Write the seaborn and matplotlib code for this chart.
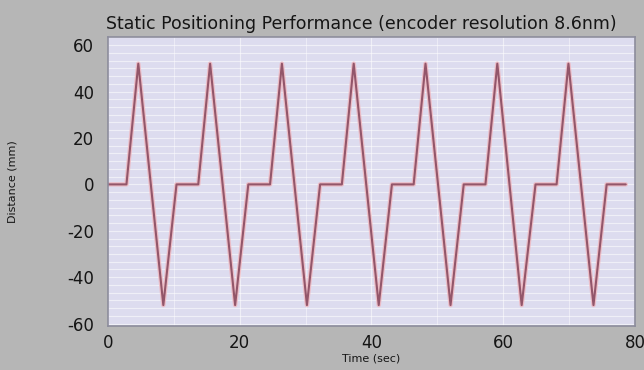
import seaborn as sns
import matplotlib.pyplot as plt
from matplotlib.ticker import MultipleLocator
import pandas as pd

# время (с) и положение (мм)
time_sec = [0, 2.8, 4.6, 8.4, 10.4,
            13.7, 15.5, 19.3, 21.3,
            24.6, 26.4, 30.2, 32.2,
            35.5, 37.3, 41.1, 43.1,
            46.4, 48.2, 52.0, 54.0,
            57.3, 59.1, 62.8, 64.9,
            68.1, 69.9, 73.7, 75.7,
            78.6]
distance_mm = [0, 0, 52, -52, 0,
               0, 52, -52, 0,
               0, 52, -52, 0,
               0, 52, -52, 0,
               0, 52, -52, 0,
               0, 52, -52, 0,
               0, 52, -52, 0,
               0]

x_ticks = [0, 20, 40, 60, 80]
y_ticks = [-60, -40, -20, 0, 20, 40, 60]

df = pd.DataFrame({'t': time_sec, 'd': distance_mm})

sns.set_theme(style='white')
plt.rcParams['font.family'] = ['DejaVu Sans']
plt.rcParams['axes.unicode_minus'] = False  # на картинке обычный дефис

fig = plt.figure(figsize=(6.44, 3.70), dpi=100)
fig.patch.set_facecolor('#b6b6b6')
ax = fig.add_axes([0.1677, 0.119, 0.8183, 0.781])
ax.set_facecolor('#dddcef')

# светлая подложка линии и сама линия
sns.lineplot(data=df, x='t', y='d', ax=ax, color='#efb4bc', linewidth=3.2, alpha=0.8)
sns.lineplot(data=df, x='t', y='d', ax=ax, color='#93566a', linewidth=1.5)

ax.set_xlim(0, 80)
ax.set_ylim(-61, 63.5)
ax.set_xticks(x_ticks)
ax.set_yticks(y_ticks)
ax.yaxis.set_minor_locator(MultipleLocator(10 / 3))
ax.xaxis.set_minor_locator(MultipleLocator(10))
ax.grid(which='minor', axis='y', color='white', alpha=0.55, linewidth=0.8)
ax.grid(which='minor', axis='x', color='white', alpha=0.45, linewidth=0.8)
ax.grid(which='major', axis='both', color='white', alpha=0.55, linewidth=0.8)
ax.set_axisbelow(True)

ax.tick_params(axis='both', which='both', length=0, labelsize=12, colors='#151515')
ax.tick_params(axis='x', pad=6)
ax.tick_params(axis='y', pad=10)
for s in ax.spines.values():
    s.set_color('#8c8c9c')
    s.set_linewidth(1.2)

ax.set_xlabel('Time (sec)', fontsize=8, color='#151515', labelpad=1)
ax.set_ylabel('Distance (mm)', fontsize=8, color='#151515', labelpad=36)
ax.set_title('Static Positioning Performance (encoder resolution 8.6nm)',
             fontsize=12.5, color='#151515', pad=6, x=0.48)

fig.savefig('out.png', dpi=100, facecolor=fig.get_facecolor())
